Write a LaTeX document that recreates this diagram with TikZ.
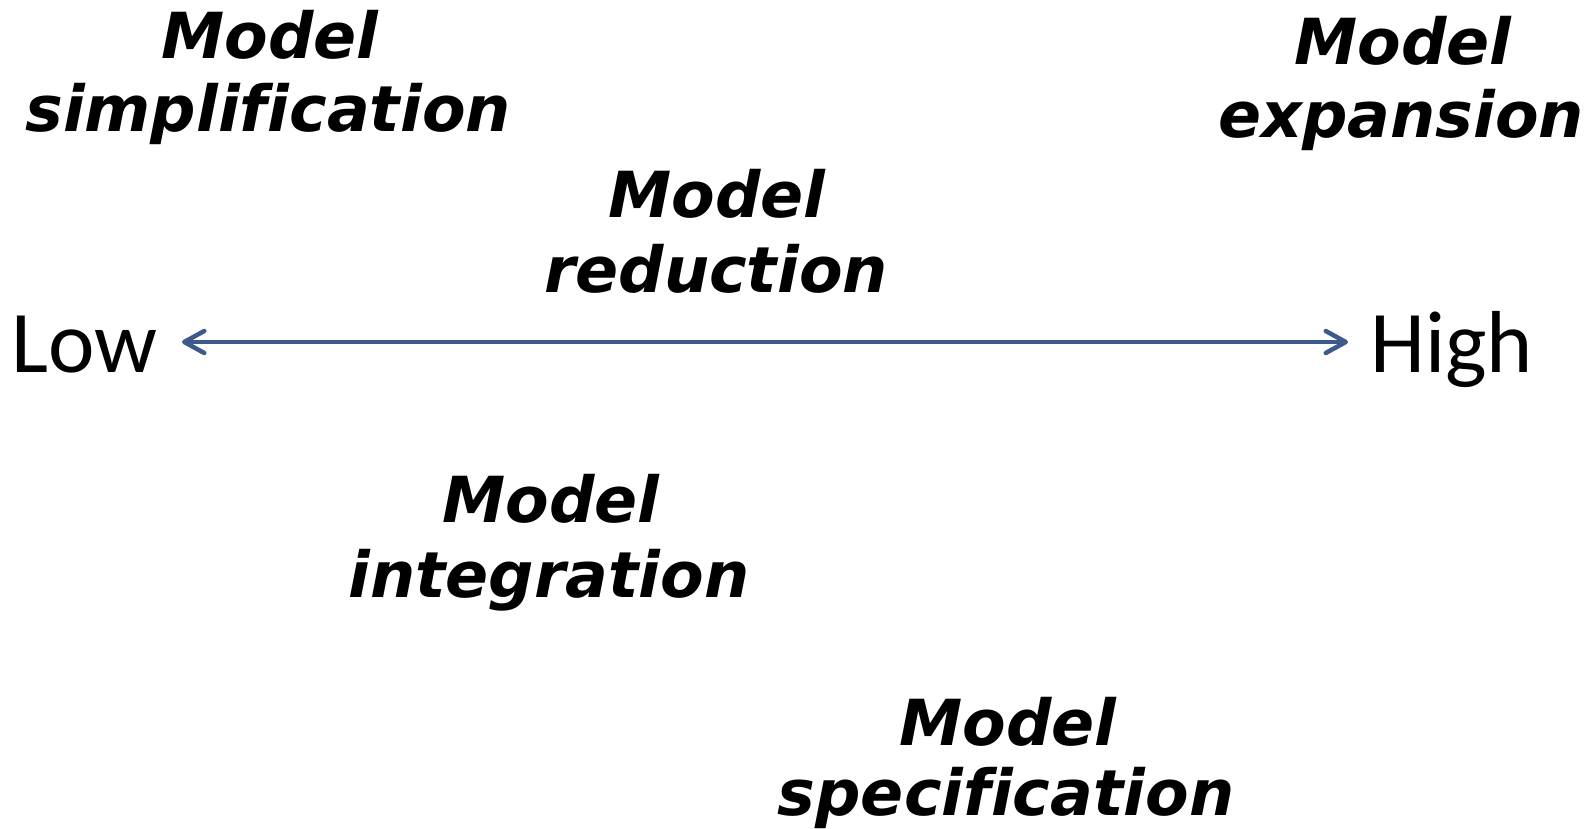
\documentclass[tikz,border=0pt]{standalone}
\usepackage{fontspec}
\setmainfont[Ligatures=NoCommon]{DejaVu Sans}
\newfontfamily\lowhigh{Carlito}
\usetikzlibrary{arrows.meta}
\definecolor{arrowblue}{HTML}{3C5A8A}
\tikzset{
  lbl/.style={anchor=base, inner sep=0pt, font=\fontsize{63.5}{74}\selectfont\bfseries\itshape},
  endlbl/.style={anchor=base west, inner sep=0pt, font=\fontsize{88}{100}\selectfont\lowhigh},
  axis/.style={draw=arrowblue, line width=4.5pt, line cap=round,
    {Straight Barb[length=20pt,width=22pt,line cap=round,line join=round]}-{Straight Barb[length=20pt,width=22pt,line cap=round,line join=round]}}
}
\begin{document}
\begin{tikzpicture}[x=1pt,y=-1pt]
\useasboundingbox (0,0) rectangle (1592,829);
% labels
\node[lbl] (simpA) at (270,59) {Model};
\node[lbl] (simpB) at (268,132) {simplification};
\node[lbl] (expA) at (1403,65) {Model};
\node[lbl] (expB) at (1401,138) {expansion};
\node[lbl] (redA) at (717,218) {Model};
\node[lbl] (redB) at (716,292) {reduction};
\node[lbl] (intA) at (551,522) {Model};
\node[lbl] (intB) at (549,597) {integration};
\node[lbl] (specA) at (1008,745) {Model};
\node[lbl] (specB) at (1006,815) {specification};
% axis
\node[endlbl] (low) at (11,372) {Low};
\node[endlbl] (high) at (1370,372) {High};
\coordinate (la) at (182,342);
\coordinate (ha) at (1348,342);
\draw[axis] (la) -- (ha);
\end{tikzpicture}
\end{document}
